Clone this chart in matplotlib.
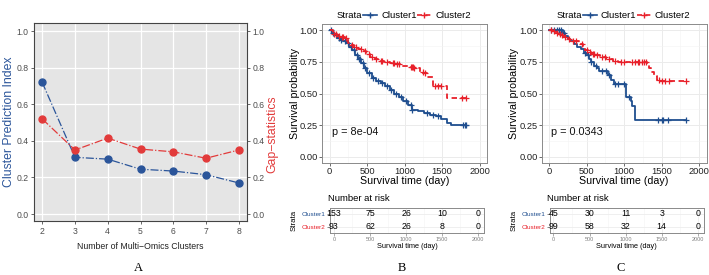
import numpy as np
import matplotlib
matplotlib.use('Agg')
import matplotlib.pyplot as plt
from matplotlib.lines import Line2D

plt.rcParams['font.family'] = ['Liberation Sans', 'DejaVu Sans']

# ---- panel A data
n_clusters = [2, 3, 4, 5, 6, 7, 8]
pred_index = [0.72, 0.31, 0.30, 0.245, 0.235, 0.215, 0.17]
gap_stat = [0.52, 0.35, 0.415, 0.355, 0.34, 0.305, 0.35]

# ---- panel B data (Kaplan-Meier)
b1_time = [0, 30, 60, 100, 140, 180, 220, 260, 300, 340, 380, 420, 460, 500, 560, 620, 680, 740, 800,
           860, 920, 980, 1040, 1100, 1180, 1260, 1340, 1420, 1480, 1560, 1620, 1820]
b1_surv = [1.0, 0.98, 0.96, 0.94, 0.92, 0.91, 0.90, 0.87, 0.84, 0.80, 0.77, 0.74, 0.70, 0.66, 0.62, 0.60,
           0.58, 0.56, 0.53, 0.50, 0.47, 0.44, 0.41, 0.37, 0.365, 0.35, 0.33, 0.32, 0.30, 0.27, 0.25, 0.25]
b1_cens = [20, 50, 90, 120, 150, 200, 240, 280, 330, 360, 390, 410, 440, 470, 520, 580, 640, 700, 760,
           820, 880, 950, 1020, 1080, 1100, 1300, 1380, 1450, 1780, 1800, 1820]
b2_time = [0, 50, 100, 150, 200, 240, 280, 330, 380, 430, 480, 540, 600, 660, 720, 800, 880, 960, 1040,
           1120, 1200, 1250, 1300, 1380, 1560, 1830]
b2_surv = [1.0, 0.97, 0.955, 0.945, 0.935, 0.90, 0.88, 0.865, 0.85, 0.835, 0.81, 0.79, 0.775, 0.76, 0.75,
           0.74, 0.735, 0.72, 0.71, 0.70, 0.67, 0.66, 0.63, 0.56, 0.465, 0.465]
b2_cens = [60, 90, 120, 160, 180, 220, 300, 350, 420, 470, 520, 560, 620, 680, 700, 760, 840, 860, 900,
           920, 1080, 1100, 1110, 1120, 1240, 1270, 1400, 1440, 1480, 1760, 1820]
b_risk1 = [153, 75, 26, 10, 0]
b_risk2 = [93, 62, 26, 8, 0]
b_pval = 'p = 8e-04'

# ---- panel C data
c1_time = [0, 180, 215, 250, 285, 330, 370, 420, 460, 500, 530, 560, 600, 640, 665, 780, 820, 860,
           1030, 1090, 1110, 1150, 1820]
c1_surv = [1.0, 0.975, 0.955, 0.93, 0.91, 0.89, 0.87, 0.85, 0.82, 0.80, 0.775, 0.75, 0.72, 0.70, 0.68,
           0.645, 0.61, 0.575, 0.475, 0.44, 0.40, 0.295, 0.295]
c1_cens = [20, 60, 100, 130, 160, 200, 480, 520, 560, 620, 700, 760, 800, 880, 920, 1000, 1060, 1450,
           1500, 1520, 1580, 1820]
c2_time = [0, 40, 80, 120, 150, 190, 230, 280, 400, 450, 480, 520, 560, 620, 680, 760, 850, 920, 1310,
           1330, 1360, 1400, 1440, 1470, 1830]
c2_surv = [1.0, 0.99, 0.98, 0.97, 0.96, 0.945, 0.93, 0.91, 0.89, 0.86, 0.84, 0.825, 0.815, 0.80, 0.79,
           0.775, 0.76, 0.745, 0.74, 0.70, 0.67, 0.64, 0.61, 0.595, 0.595]
c2_cens = [20, 60, 100, 140, 170, 210, 260, 320, 360, 440, 500, 540, 580, 600, 640, 700, 740, 800, 880,
           960, 1000, 1100, 1150, 1180, 1200, 1240, 1270, 1290, 1460, 1500, 1540, 1600, 1820]
c_risk1 = [45, 30, 11, 3, 0]
c_risk2 = [99, 58, 32, 14, 0]
c_pval = 'p = 0.0343'

risk_times = [0, 500, 1000, 1500, 2000]
strata = ['Cluster1', 'Cluster2']

BLUE_A = '#2B559A'
RED_A = '#E23B3B'
BLUE = '#1F4E8F'
RED = '#E8202A'
W, H = 709, 275


def frac(l, t, r, b):
    return [l / W, 1 - b / H, (r - l) / W, (b - t) / H]


fig = plt.figure(figsize=(7.09, 2.75), dpi=100)

# ================= panel A
axA = fig.add_axes(frac(34, 23, 247, 221))
axA.set_facecolor('#E5E5E5')
axA.grid(True, color='white', lw=0.9)
axA.set_axisbelow(True)
axA.plot(n_clusters, pred_index, color=BLUE_A, ls='-.', lw=0.9, marker='o', ms=5, zorder=3)
axA.set_xlim(1.75, 8.25)
axA.set_ylim(-0.038, 1.044)
axA.set_xticks(n_clusters)
axA.set_yticks([0, 0.2, 0.4, 0.6, 0.8, 1.0])
axA.set_yticklabels(['0.0', '0.2', '0.4', '0.6', '0.8', '1.0'])
axA.tick_params(labelsize=6.2, labelcolor='#4D4D4D', color='#4D4D4D', length=2.5, width=0.6, pad=1.5)
for s in axA.spines.values():
    s.set_color('#444444')
    s.set_linewidth(0.8)
axA.set_ylabel('Cluster Prediction Index', color=BLUE_A, fontsize=8.8)
axA.yaxis.set_label_coords(-0.087, 0.5)
axA.set_xlabel('Number of Multi\u2212Omics Clusters', fontsize=6.3, color='#222222')
axA.xaxis.set_label_coords(0.5, -0.104)

axA2 = axA.twinx()
axA2.plot(n_clusters, gap_stat, color=RED_A, ls='-.', lw=0.9, marker='o', ms=5, zorder=3)
axA2.set_ylim(-0.038, 1.044)
axA2.set_yticks([0, 0.2, 0.4, 0.6, 0.8, 1.0])
axA2.set_yticklabels(['0.0', '0.2', '0.4', '0.6', '0.8', '1.0'])
axA2.tick_params(labelsize=6.2, labelcolor='#4D4D4D', color='#4D4D4D', length=2.5, width=0.6, pad=1.5)
for s in axA2.spines.values():
    s.set_visible(False)
axA2.set_ylabel('Gap\u2212statistics', color=RED_A, fontsize=8.8, rotation=90)
axA2.yaxis.set_label_coords(1.09, 0.44)


def km_panel(x0, risk1, risk2, t1, s1, c1, t2, s2, c2, pval):
    ax = fig.add_axes(frac(x0, 23.7, x0 + 165, 163.3))
    ax.set_xlim(-100, 2100)
    ax.set_ylim(-0.05, 1.05)
    ax.set_xticks([0, 500, 1000, 1500, 2000])
    ax.set_xticks([250, 750, 1250, 1750], minor=True)
    ax.set_yticks([0, 0.25, 0.5, 0.75, 1.0])
    ax.set_yticks([0.125, 0.375, 0.625, 0.875], minor=True)
    ax.set_yticklabels(['0.00', '0.25', '0.50', '0.75', '1.00'])
    ax.grid(True, which='major', color='#EBEBEB', lw=0.7)
    ax.grid(True, which='minor', color='#F3F3F3', lw=0.4)
    ax.set_axisbelow(True)
    ax.tick_params(which='major', labelsize=6.7, labelcolor='#222222', color='#555555', length=2,
                   width=0.6, pad=0.8)
    ax.tick_params(which='minor', length=0)
    for s in ax.spines.values():
        s.set_color('#8A8A8A')
        s.set_linewidth(0.7)
    for tt, ss, cc, col, ls in [(t1, s1, c1, BLUE, '-'), (t2, s2, c2, RED, (0, (3, 2)))]:
        tt = np.array(tt)
        ss = np.array(ss)
        ax.plot(tt, ss, drawstyle='steps-post', color=col, lw=1.3, ls=ls)
        idx = np.searchsorted(tt, cc, side='right') - 1
        ax.plot(cc, ss[idx], ls='none', marker='+', color=col, ms=4, mew=0.9)
    ax.text(30, 0.2, pval, fontsize=7.8, va='center', ha='left', color='#111111')
    ax.set_ylabel('Survival probability', fontsize=7.7)
    ax.yaxis.set_label_coords(-0.135, 0.5)
    ax.set_xlabel('Survival time (day)', fontsize=7.7)
    ax.xaxis.set_label_coords(0.5, -0.09)

    # legend on top
    fig.text((x0 + 14.7) / W, 1 - 15 / H, 'Strata', fontsize=6.8, va='center', ha='left')
    for lx, col, ls, name in [(x0 + 41, BLUE, '-', 'Cluster1'), (x0 + 95, RED, (0, (3, 2)), 'Cluster2')]:
        fig.add_artist(Line2D([lx / W, (lx + 14) / W], [1 - 15 / H, 1 - 15 / H], color=col, lw=1.2, ls=ls,
                              transform=fig.transFigure))
        fig.add_artist(Line2D([(lx + 7) / W], [1 - 15 / H], color=col, marker='+', ms=5, mew=1,
                              transform=fig.transFigure))
        fig.text((lx + 18) / W, 1 - 15 / H, name, fontsize=6.8, va='center', ha='left')

    # risk table
    axT = fig.add_axes(frac(x0 + 8, 207.7, x0 + 162, 232.7))
    axT.set_xlim(-55, 2079)
    axT.set_ylim(0.55, 2.47)
    axT.set_xticks(risk_times)
    axT.set_xticks([250, 750, 1250, 1750], minor=True)
    axT.set_yticks([2, 1])
    axT.set_yticklabels(strata)
    for lab, col in zip(axT.get_yticklabels(), [BLUE, RED]):
        lab.set_color(col)
    axT.grid(True, which='major', color='#EDEDED', lw=0.6)
    axT.grid(True, which='minor', axis='x', color='#F4F4F4', lw=0.4)
    axT.set_axisbelow(True)
    axT.tick_params(axis='y', labelsize=4.6, length=2, width=0.5, color='#555555', pad=1)
    axT.tick_params(axis='x', which='major', labelsize=4, labelcolor='#808080', length=2, width=0.5,
                    color='#888888', pad=1)
    axT.tick_params(which='minor', length=0)
    for s in axT.spines.values():
        s.set_color('#8A8A8A')
        s.set_linewidth(0.7)
    for t, r1, r2 in zip(risk_times, risk1, risk2):
        axT.text(t, 2, str(r1), fontsize=6.3, ha='center', va='center')
        axT.text(t, 1, str(r2), fontsize=6.3, ha='center', va='center')
    axT.set_ylabel('Strata', fontsize=5.6)
    axT.yaxis.set_label_coords(-0.208, 0.5)
    axT.set_xlabel('Survival time (day)', fontsize=5.3)
    axT.xaxis.set_label_coords(0.5, -0.41)
    axT.text(-0.013, 1.38, 'Number at risk', transform=axT.transAxes, fontsize=6.8, va='center', ha='left')
    return ax


km_panel(322, b_risk1, b_risk2, b1_time, b1_surv, b1_cens, b2_time, b2_surv, b2_cens, b_pval)
km_panel(541.5, c_risk1, c_risk2, c1_time, c1_surv, c1_cens, c2_time, c2_surv, c2_cens, c_pval)

for x, lab in [(138, 'A'), (402, 'B'), (621, 'C')]:
    fig.text(x / W, 1 - 268 / H, lab, fontsize=9, family='Liberation Serif', ha='center', va='center')

fig.savefig('out.png', dpi=100)
